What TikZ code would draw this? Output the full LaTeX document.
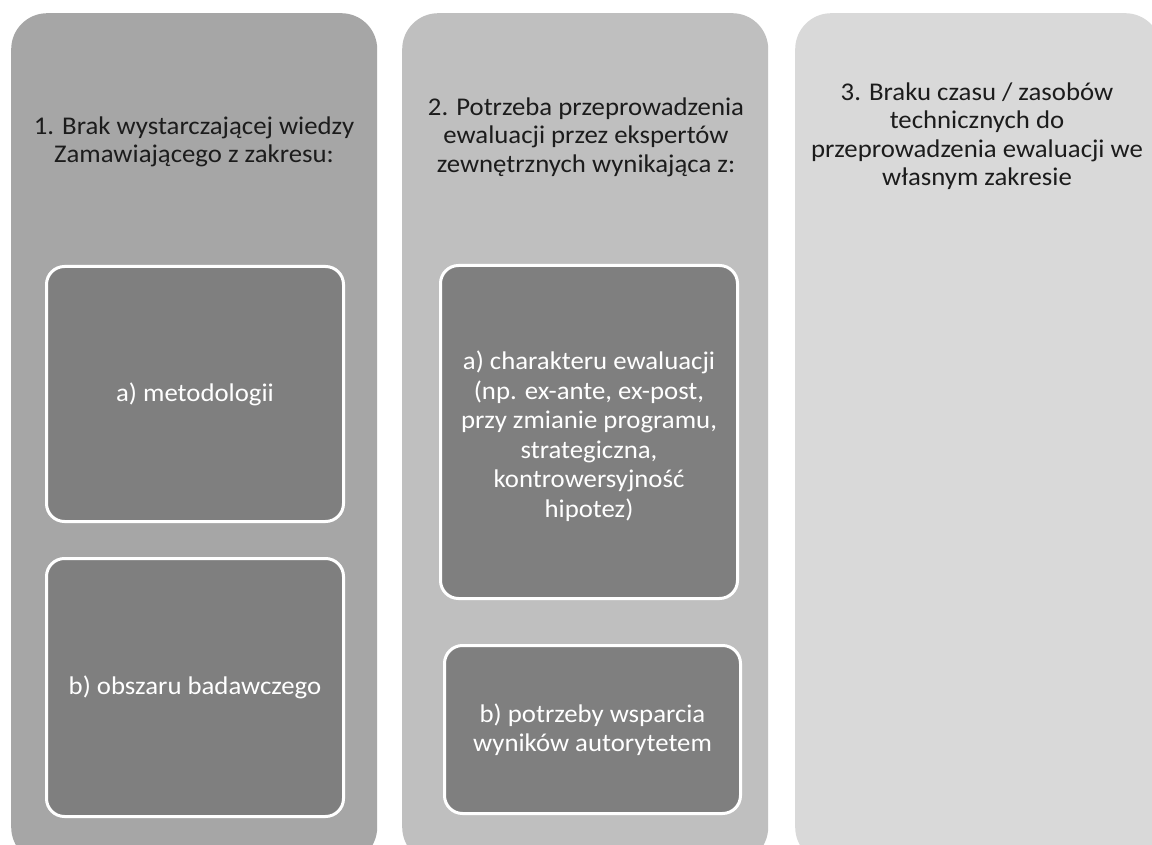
\documentclass[tikz,border=0pt]{standalone}
\usepackage{fontspec}
\setmainfont{Carlito}
\definecolor{colA}{HTML}{A6A6A6}
\definecolor{colB}{HTML}{BFBFBF}
\definecolor{colC}{HTML}{D9D9D9}
\definecolor{inner}{HTML}{7F7F7F}
\definecolor{titletxt}{HTML}{1C1C1C}
\begin{document}
\begin{tikzpicture}[x=1pt,y=1pt,
  column/.style={anchor=north west, inner sep=0pt, rounded corners=36pt,
    minimum width=366pt, minimum height=850pt},
  itembox/.style={anchor=north west, inner sep=0pt, rounded corners=18pt,
    draw=white, line width=3pt, fill=inner},
  titletext/.style={align=center, text=titletxt, font=\fontsize{25.5}{28.5}\selectfont\addfontfeature{FakeStretch=1.05}},
  itemtext/.style={align=center, text=white, font=\fontsize{25.5}{29.5}\selectfont\addfontfeature{FakeStretch=1.05}}]
\useasboundingbox (0,0) rectangle (1152,-845);
\clip (0,0) rectangle (1152,-845);
\fill[white] (0,0) rectangle (1152,-845);
% columns
\node[column, fill=colA] (c1) at (11,-13) {};
\node[column, fill=colB] (c2) at (402,-13) {};
\node[column, fill=colC] (c3) at (795,-13) {};
% titles
\node[titletext] (t1) at (194,-142) {1. Brak wystarczającej wiedzy\\Zamawiającego z zakresu:};
\node[titletext] (t2) at (586,-137) {2. Potrzeba przeprowadzenia\\ewaluacji przez ekspertów\\zewnętrznych wynikająca z:};
\node[titletext] (t3) at (977,-136) {3. Braku czasu / zasobów\\technicznych do\\przeprowadzenia ewaluacji we\\własnym zakresie};
% inner boxes
\node[itembox, minimum width=297pt, minimum height=255pt] (a1) at (45,-265) {};
\node[itembox, minimum width=297pt, minimum height=258pt] (b1) at (45,-557) {};
\node[itembox, minimum width=297pt, minimum height=333pt] (a2) at (439,-264) {};
\node[itembox, minimum width=296pt, minimum height=168pt] (b2) at (443,-644) {};
% inner texts
\node[itemtext] (ta1) at (a1.center) {a) metodologii};
\node[itemtext] (tb1) at (b1.center) {b) obszaru badawczego};
\node[itemtext] (ta2) at ([yshift=-4pt]a2.center) {a) charakteru ewaluacji\\(np. ex-ante, ex-post,\\przy zmianie programu,\\strategiczna,\\kontrowersyjność\\hipotez)};
\node[itemtext] (tb2) at (b2.center) {b) potrzeby wsparcia\\wyników autorytetem};
\end{tikzpicture}
\end{document}
